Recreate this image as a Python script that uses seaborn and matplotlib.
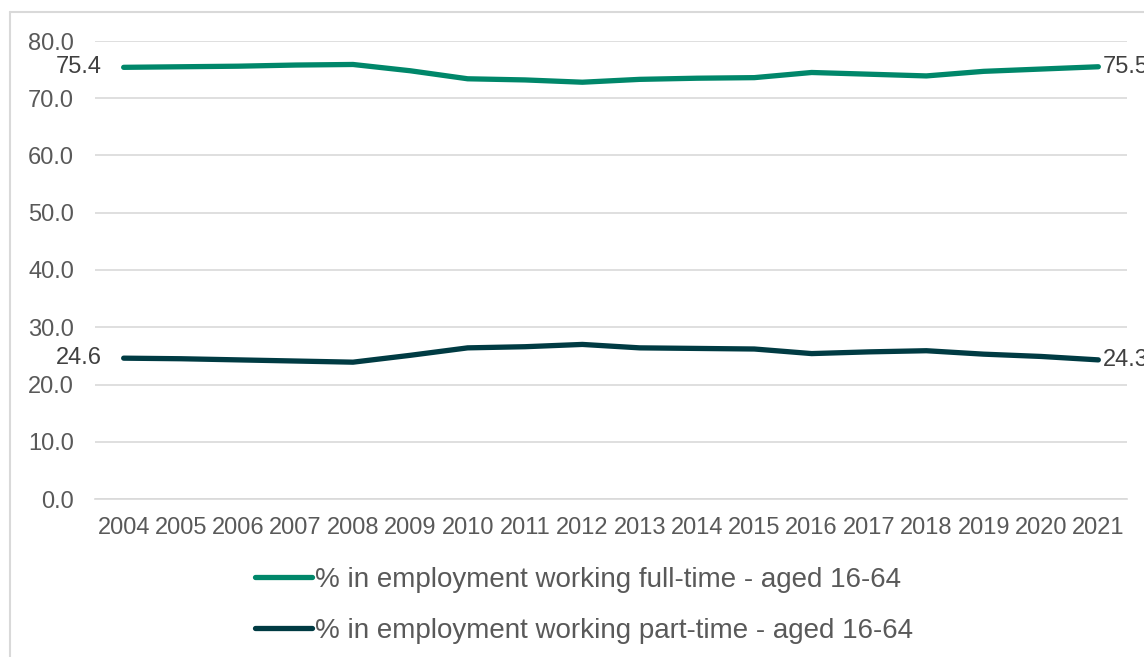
import numpy as np
import pandas as pd
import matplotlib
matplotlib.use("Agg")
import matplotlib.pyplot as plt
from matplotlib.lines import Line2D
import seaborn as sns

years = list(range(2004, 2022))
full_time = [75.4, 75.5, 75.6, 75.8, 75.9, 74.8, 73.4, 73.2, 72.8, 73.3, 73.5, 73.6, 74.5, 74.2, 73.9, 74.7, 75.1, 75.5]
part_time = [24.6, 24.5, 24.3, 24.1, 23.9, 25.1, 26.4, 26.6, 27.0, 26.4, 26.3, 26.2, 25.4, 25.7, 25.9, 25.3, 24.9, 24.3]
series_names = ["% in employment working full-time - aged 16-64",
                "% in employment working part-time - aged 16-64"]
colors = ["#00876A", "#003B43"]
y_ticks = [0, 10, 20, 30, 40, 50, 60, 70, 80]

df = pd.DataFrame({
    "year": years * 2,
    "value": full_time + part_time,
    "series": [series_names[0]] * len(years) + [series_names[1]] * len(years),
})

sns.set_style("white")
plt.rcParams['font.family'] = ['Liberation Sans', 'DejaVu Sans']
text_col = "#595959"
fs = 17

fig = plt.figure(figsize=(11.44, 6.57), dpi=100)
ax = fig.add_axes([95/1144, 1 - 499/657, (1127-95)/1144, (499-41)/657])

sns.lineplot(data=df, x="year", y="value", hue="series", palette=colors,
             linewidth=3.8, ax=ax, legend=False, solid_capstyle="round")

ax.set_ylim(0, 80)
ax.set_xlim(2003.5, 2021.5)
ax.set_yticks(y_ticks)
ax.set_yticklabels([f"{v:.1f}" for v in y_ticks])
ax.set_xticks(years)
ax.set_xticklabels([str(y) for y in years])
ax.tick_params(axis="y", length=0, pad=15, labelsize=fs, labelcolor=text_col)
ax.tick_params(axis="x", length=0, pad=13, labelsize=fs, labelcolor=text_col)
ax.grid(axis="y", color="#D9D9D9", linewidth=1.2)
ax.set_axisbelow(True)
for s in ["top", "right", "left"]:
    ax.spines[s].set_visible(False)
ax.spines["bottom"].set_color("#D9D9D9")
ax.spines["bottom"].set_linewidth(1.2)
ax.set_xlabel("")
ax.set_ylabel("")

lab_col = "#404040"
for vals in (full_time, part_time):
    ax.annotate(f"{vals[0]:.1f}", (years[0], vals[0]), xytext=(-16, 0), textcoords="offset points",
                ha="right", va="center", fontsize=fs, color=lab_col)
    ax.annotate(f"{vals[-1]:.1f}", (years[-1], vals[-1]), xytext=(3, 0), textcoords="offset points",
                ha="left", va="center", fontsize=fs, color=lab_col, annotation_clip=False)

handles = [Line2D([0], [0], color=c, linewidth=3.8, solid_capstyle="round") for c in colors]
leg = fig.legend(handles, series_names, loc="upper left", bbox_to_anchor=(230/1144, 1 - 542/657),
                 frameon=False, fontsize=20, handlelength=2.05, handletextpad=0.1,
                 labelspacing=0.9)
for t in leg.get_texts():
    t.set_color(text_col)

# outer chart border (left and top)
fig.add_artist(Line2D([10/1144, 10/1144], [0, 1 - 12/657], transform=fig.transFigure,
                      color="#D9D9D9", linewidth=1.5))
fig.add_artist(Line2D([10/1144, 1], [1 - 12/657, 1 - 12/657], transform=fig.transFigure,
                      color="#D9D9D9", linewidth=1.5))

fig.savefig("out.png", dpi=100)
